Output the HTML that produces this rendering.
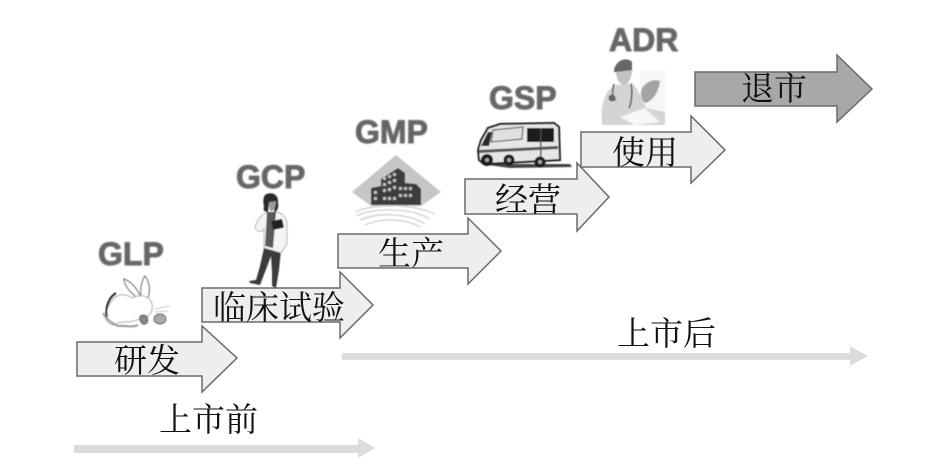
<!DOCTYPE html>
<html lang="zh">
<head>
<meta charset="utf-8">
<style>
html,body{margin:0;padding:0;background:#fff;width:942px;height:470px;overflow:hidden}
svg{display:block}
.z{font-family:"Noto Serif CJK SC","Noto Serif CJK",serif;font-size:33px;fill:#111;font-weight:400}
.g{font-family:"Liberation Sans",sans-serif;font-weight:700;font-size:32px;fill:#666;stroke:#666;stroke-width:.9;filter:url(#b1)}
.a{fill:#eeeeee;stroke:#6a6a6a;stroke-width:1.5}
</style>
</head>
<body>
<svg width="942" height="470" viewBox="0 0 942 470" xmlns="http://www.w3.org/2000/svg">
<defs>
<filter id="b1" x="-10%" y="-10%" width="120%" height="120%"><feGaussianBlur stdDeviation="0.7"/></filter>
<filter id="b2" x="-10%" y="-10%" width="120%" height="120%"><feGaussianBlur stdDeviation="0.5"/></filter>
</defs>

<!-- timeline arrows -->
<polygon points="74,445 358,445 358,438 375,448 358,458 358,453 74,453" fill="#dcdcdc"/>
<polygon points="342,353 850,353 850,346 868,356 850,366 850,360 342,360" fill="#dcdcdc"/>

<!-- step arrows -->
<polygon class="a" points="77,342 202,342 202,326 237,358 202,392 202,376 77,376"/>
<polygon class="a" points="202,288 340,288 340,272 373,305 340,338 340,322 202,322"/>
<polygon class="a" points="338,234 468,234 468,218 501,251 468,284 468,268 338,268"/>
<polygon class="a" points="465,179 577,179 577,163 609,197 577,231 577,214 465,214"/>
<polygon class="a" points="581,132 691,132 691,116 725,150 691,183 691,167 581,167"/>
<polygon class="a" points="695,72 837,72 837,55 872,89 837,122 837,106 695,106" style="fill:#a8a8a8"/>

<!-- labels -->
<text class="z" x="114" y="372">研发</text>
<text class="z" x="213" y="319">临床试验</text>
<text class="z" x="378" y="265">生产</text>
<text class="z" x="495" y="211">经营</text>
<text class="z" x="612" y="164">使用</text>
<text class="z" x="741" y="100">退市</text>
<text class="z" x="159" y="431">上市前</text>
<text class="z" x="617" y="345">上市后</text>

<!-- standard names -->
<text class="g" x="98" y="265">GLP</text>
<text class="g" x="236" y="188">GCP</text>
<text class="g" x="355" y="143">GMP</text>
<text class="g" x="489" y="109">GSP</text>
<text class="g" x="609" y="51">ADR</text>

<!-- rabbit -->
<g filter="url(#b2)" fill="none" stroke="#555" stroke-width="1">
<path d="M136,297 C128,290 124,284 124,279 C130,281 137,288 140,296" fill="#fff"/>
<path d="M141,296 C140,288 142,280 145,276 C150,283 150,291 148,298" fill="#fff"/>
<path d="M132,298 C120,290 112,298 108,307 C104,316 104,322 113,325 C121,320 130,324 142,318 C154,316 155,303 148,298 C143,294 136,296 132,298Z" fill="#fff" stroke="#aaa"/>
<path d="M116,293 C108,298 105,309 107,317" stroke="#222" stroke-width="2"/>
<path d="M103,313 C107,320 112,323 118,326 C125,325 132,328 138,325" stroke="#999" stroke-width="2"/>
<ellipse cx="160" cy="319" rx="6" ry="5" fill="#aaa" stroke="#666"/>
<path d="M140,316 C146,313 149,318 147,323 C143,326 139,322 140,316Z" fill="#888"/>
<path d="M155,309 L170,306 M154,312 L168,311" stroke="#ccc"/>
</g>

<!-- GCP doctor -->
<g filter="url(#b2)">
<path d="M264,248 L260,266 L256,280 L249,281 L250,283 L260,285 L265,272 L271,256 L272,272 L272,286 L276,288 L279,270 L281,250Z" fill="#3a3a3a"/>
<path d="M265,213 C260,216 256,222 255,228 C258,233 262,232 264,229 L264,248 L281,253 L287,244 L287,222 C285,215 281,213 277,212Z" fill="#f4f4f4" stroke="#999" stroke-width=".7"/>
<path d="M267,212 L265,246 L273,248 L276,212Z" fill="#5a5a5a"/>
<rect x="272" y="220" width="11" height="9" fill="#222" transform="rotate(-12 277 224)"/>
<path d="M265,195 C271,191 279,194 278,203 C279,208 277,212 274,212 L275,204 L269,203 L268,212 C264,212 263,210 264,206 C263,202 263,198 265,195Z" fill="#2b2b2b"/>
<path d="M269,202 L276,201 C276,207 274,211 271,211 C269,210 269,206 269,202Z" fill="#9a9a9a"/>
</g>

<!-- GMP building -->
<g filter="url(#b2)">
<polygon points="396,155 441,192 421,206 371,206 352,192" fill="#c6c6c6"/>
<path d="M371,205 L371,188 L381,186 L381,179 L398,168 L405,173 L405,183 L416,184 L421,189 L421,205Z" fill="#3c3c3c"/>
<g fill="#bdbdbd">
<rect x="383" y="177" width="3" height="3"/><rect x="388" y="175" width="3" height="3"/><rect x="393" y="173" width="3" height="3"/>
<rect x="383" y="183" width="3" height="3"/><rect x="388" y="181" width="3" height="3"/><rect x="393" y="179" width="3" height="3"/>
<rect x="383" y="189" width="3" height="3"/><rect x="388" y="188" width="3" height="3"/><rect x="393" y="186" width="3" height="3"/>
<rect x="399" y="187" width="3" height="3"/><rect x="404" y="187" width="3" height="3"/><rect x="409" y="187" width="3" height="3"/>
<rect x="374" y="191" width="3" height="3"/><rect x="374" y="197" width="3" height="3"/>
<rect x="383" y="197" width="3" height="3"/><rect x="388" y="197" width="3" height="3"/><rect x="393" y="197" width="3" height="3"/>
<rect x="399" y="194" width="3" height="3"/><rect x="404" y="194" width="3" height="3"/><rect x="409" y="194" width="3" height="3"/>
</g>
<g fill="none" stroke="#cfcfcf" stroke-width="1.3">
<path d="M355,212 C375,203 415,204 434,214"/>
<path d="M356,216 C375,207 412,208 430,219"/>
<path d="M360,220 C378,212 408,213 425,224"/>
<path d="M365,225 C380,218 404,218 420,227"/>
</g>
</g>

<!-- ambulance -->
<g filter="url(#b2)">
<path d="M480,164 L570,164 L572,167 L510,168Z" fill="#444"/>
<path d="M478,150 L481,140 L488,128 L500,124 L554,123 L559,127 L560,160 L484,164 L479,160Z" fill="#e6e6e6" stroke="#1c1c1c" stroke-width="2"/>
<rect x="527" y="128" width="27" height="14" fill="#1e1e1e"/>
<rect x="540" y="128" width="1.5" height="32" fill="#444"/>
<path d="M493,130 L523,127 L522,139 L491,142Z" fill="#e0e0e0" stroke="#333"/>
<path d="M481,146 L488,132 L492,132 L489,146Z" fill="#2a2a2a"/>
<path d="M479,150 L558,146 L558,149 L479,153Z" fill="#555"/>
<circle cx="487" cy="160" r="6" fill="#1e1e1e"/><circle cx="509" cy="160" r="5.5" fill="#1e1e1e"/><circle cx="540" cy="162" r="5.5" fill="#1e1e1e"/>
<circle cx="487" cy="160" r="2" fill="#aaa"/><circle cx="509" cy="160" r="2" fill="#aaa"/><circle cx="540" cy="162" r="2" fill="#aaa"/>
</g>

<!-- ADR doctor -->
<g filter="url(#b2)">
<rect x="640" y="70" width="25" height="55" fill="#f6f6f6"/>
<path d="M602,125 C600,105 605,90 615,85 L632,83 C638,88 642,100 646,108 L665,112 L665,125Z" fill="#d4d4d4"/>
<path d="M614,72 C614,61 626,56 632,62 L632,71 L618,72Z" fill="#666"/>
<path d="M616,72 L632,70 C632,78 628,84 624,85 C619,84 616,78 616,72Z" fill="#c2c2c2"/>
<path d="M614,84 C612,92 612,98 616,100 M631,84 C633,92 631,105 629,108" fill="none" stroke="#444" stroke-width="1.4"/>
<circle cx="612" cy="98" r="3.5" fill="#666"/>
<path d="M642,88 C648,80 656,79 660,81 C659,92 652,102 645,103 C641,100 640,93 642,88Z" fill="#a4a4a4"/>
<path d="M620,117 L645,108 L660,122 L635,125Z" fill="#f7f7f7"/>
</g>
</svg>
</body>
</html>
